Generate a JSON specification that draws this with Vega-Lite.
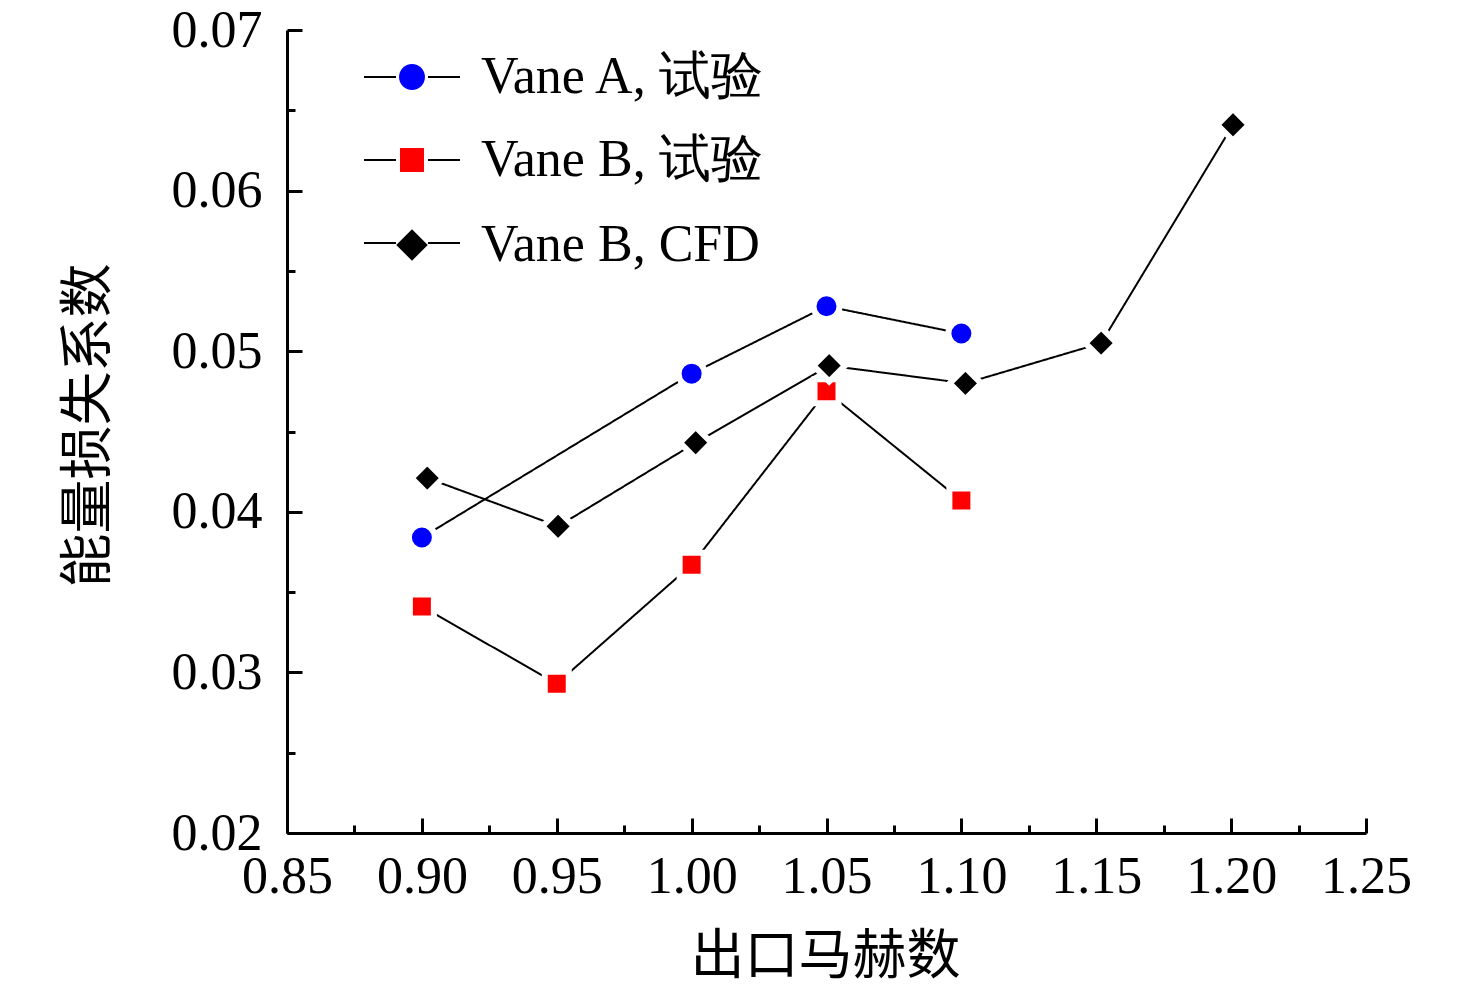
{
  "$schema": "https://vega.github.io/schema/vega-lite/v6.json",
  "width": 1079,
  "height": 803,
  "autosize": {"type": "none"},
  "padding": {"left": 287, "top": 30, "right": 110, "bottom": 162},
  "background": "white",
  "config": {"view": {"stroke": null}},
  "data": {
    "values": [
      {"series": "Vane A, 试验", "mach": 0.90, "coef": 0.0384},
      {"series": "Vane A, 试验", "mach": 1.00, "coef": 0.0486},
      {"series": "Vane A, 试验", "mach": 1.05, "coef": 0.0528},
      {"series": "Vane A, 试验", "mach": 1.10, "coef": 0.0511},
      {"series": "Vane B, 试验", "mach": 0.90, "coef": 0.0341},
      {"series": "Vane B, 试验", "mach": 0.95, "coef": 0.0293},
      {"series": "Vane B, 试验", "mach": 1.00, "coef": 0.0367},
      {"series": "Vane B, 试验", "mach": 1.05, "coef": 0.0475},
      {"series": "Vane B, 试验", "mach": 1.10, "coef": 0.0407},
      {"series": "Vane B, CFD", "mach": 0.902, "coef": 0.0421},
      {"series": "Vane B, CFD", "mach": 0.9505, "coef": 0.0391},
      {"series": "Vane B, CFD", "mach": 1.0015, "coef": 0.0443},
      {"series": "Vane B, CFD", "mach": 1.051, "coef": 0.0491},
      {"series": "Vane B, CFD", "mach": 1.1015, "coef": 0.0480},
      {"series": "Vane B, CFD", "mach": 1.1518, "coef": 0.0505},
      {"series": "Vane B, CFD", "mach": 1.2007, "coef": 0.0641}
    ]
  },
  "encoding": {
    "x": {
      "field": "mach",
      "type": "quantitative",
      "scale": {"domain": [0.85, 1.25], "nice": false, "zero": false},
      "axis": {
        "title": "出口马赫数",
        "values": [0.85, 0.875, 0.9, 0.925, 0.95, 0.975, 1.0, 1.025, 1.05, 1.075, 1.1, 1.125, 1.15, 1.175, 1.2, 1.225, 1.25],
        "labelExpr": "round(datum.value*1000) % 50 === 0 ? format(datum.value, '.2f') : ''",
        "grid": false,
        "domainColor": "black",
        "domainWidth": 3,
        "ticks": true,
        "tickColor": "black",
        "tickWidth": 3,
        "tickSize": {"condition": {"test": "round(datum.value*1000) % 50 === 0", "value": -15}, "value": -8},
        "labelPadding": 33,
        "labelFont": "Liberation Serif",
        "labelFontSize": 52,
        "labelColor": "black",
        "labelOverlap": false,
        "labelFlush": false,
        "labelBound": false,
        "titleFont": "Noto Sans CJK SC",
        "titleFontSize": 54,
        "titleFontWeight": "normal",
        "titleColor": "black",
        "titleX": 538,
        "titleY": 124,
        "titleAlign": "center",
        "titleBaseline": "middle"
      }
    },
    "y": {
      "field": "coef",
      "type": "quantitative",
      "scale": {"domain": [0.02, 0.07], "nice": false, "zero": false},
      "axis": {
        "title": "能量损失系数",
        "values": [0.02, 0.025, 0.03, 0.035, 0.04, 0.045, 0.05, 0.055, 0.06, 0.065, 0.07],
        "labelExpr": "round(datum.value*1000) % 10 === 0 ? format(datum.value, '.2f') : ''",
        "grid": false,
        "domainColor": "black",
        "domainWidth": 3,
        "ticks": true,
        "tickColor": "black",
        "tickWidth": 3,
        "tickSize": {"condition": {"test": "round(datum.value*1000) % 10 === 0", "value": -15}, "value": -8},
        "labelPadding": 40,
        "labelFont": "Liberation Serif",
        "labelFontSize": 52,
        "labelColor": "black",
        "labelOverlap": false,
        "labelFlush": false,
        "labelBound": false,
        "titleFont": "Noto Sans CJK SC",
        "titleFontSize": 54,
        "titleFontWeight": "normal",
        "titleColor": "black",
        "titleAngle": -90,
        "titleX": -198,
        "titleY": 395,
        "titleAlign": "center",
        "titleBaseline": "middle"
      }
    }
  },
  "layer": [
    {
      "mark": {"type": "line", "color": "black", "strokeWidth": 2},
      "encoding": {
        "strokeDash": {
          "field": "series",
          "type": "nominal",
          "sort": null,
          "scale": {"range": [[1, 0], [1, 0], [1, 0]]},
          "legend": {
            "title": null,
            "orient": "none",
            "legendX": 99,
            "legendY": 21,
            "padding": 0,
            "labelFont": "Liberation Serif",
            "labelFontSize": 52,
            "labelOpacity": 0,
            "labelOffset": 43,
            "labelLimit": 0,
            "rowPadding": 31,
            "symbolSize": 729,
            "symbolStrokeWidth": 2,
            "symbolStrokeColor": "black",
            "symbolType": "M-3.556,0H-1.185M1.185,0H3.556"
          }
        }
      }
    },
    {
      "mark": {"type": "point", "filled": true, "size": 529, "stroke": "white", "strokeWidth": 6, "opacity": 1},
      "encoding": {
        "color": {
          "field": "series",
          "type": "nominal",
          "scale": {
            "domain": ["Vane A, 试验", "Vane B, 试验", "Vane B, CFD"],
            "range": ["#0000ff", "#ff0000", "#000000"]
          },
          "legend": {
            "title": null,
            "orient": "none",
            "legendX": 99,
            "legendY": 21,
            "padding": 0,
            "labelFont": "Liberation Serif",
            "labelFontSize": 52,
            "labelColor": "black",
            "labelOffset": 43,
            "labelLimit": 0,
            "rowPadding": 31,
            "symbolSize": 529,
            "symbolStrokeWidth": 6,
            "symbolStrokeColor": "white",
            "symbolOpacity": 1
          }
        },
        "shape": {
          "field": "series",
          "type": "nominal",
          "scale": {
            "domain": ["Vane A, 试验", "Vane B, 试验", "Vane B, CFD"],
            "range": [
              "M1.13,0A1.13,1.13,0,1,1,-1.13,0A1.13,1.13,0,1,1,1.13,0Z",
              "M-1.043,-1.043H1.043V1.043H-1.043Z",
              "M0,-1.37L1.37,0L0,1.37L-1.37,0Z"
            ]
          },
          "legend": {
            "title": null,
            "orient": "none",
            "legendX": 99,
            "legendY": 21,
            "padding": 0,
            "labelFont": "Liberation Serif",
            "labelFontSize": 52,
            "labelColor": "black",
            "labelOffset": 43,
            "labelLimit": 0,
            "rowPadding": 31,
            "symbolSize": 529,
            "symbolStrokeWidth": 6,
            "symbolStrokeColor": "white",
            "symbolOpacity": 1
          }
        }
      }
    }
  ]
}
